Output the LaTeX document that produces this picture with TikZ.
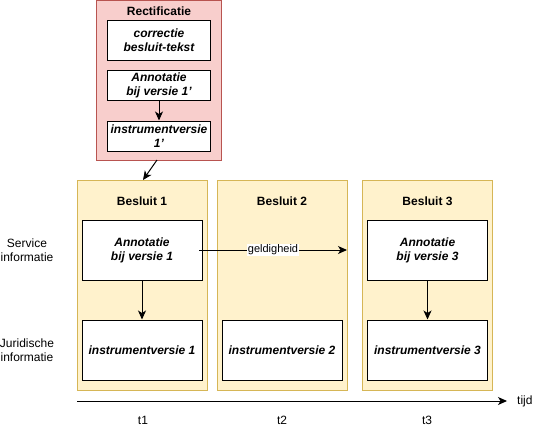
\documentclass[tikz,border=0pt]{standalone}
\usepackage{fontspec}
\setmainfont{Liberation Sans}
\usetikzlibrary{arrows.meta}
\definecolor{grpfill}{HTML}{FFF2CC}
\definecolor{grpdraw}{HTML}{D6B656}
\definecolor{recfill}{HTML}{F8CECC}
\definecolor{recdraw}{HTML}{B85450}
\tikzset{
  every node/.style={font=\fontsize{12}{14}\selectfont, inner sep=0pt, align=center},
  grp/.style={draw=grpdraw, fill=grpfill, line width=1pt, minimum width=130pt, minimum height=210pt},
  recgrp/.style={draw=recdraw, fill=recfill, line width=1pt, minimum width=125pt, minimum height=160pt},
  wbox/.style={draw=black, fill=white, line width=1pt, font=\fontsize{12}{14}\selectfont\bfseries\itshape},
  bigbox/.style={wbox, minimum width=120pt, minimum height=60pt},
  smallbox/.style={wbox, minimum width=103pt},
  title/.style={font=\fontsize{12}{14}\selectfont\bfseries},
  lbl/.style={font=\fontsize{12}{14}\selectfont},
  conn/.style={line width=1pt, -{Stealth[length=9pt,width=8pt,inset=2.5pt]}}
}
\begin{document}
\begin{tikzpicture}[x=1pt,y=-1pt]
\useasboundingbox (0,0) rectangle (548,431);
% Rectificatie
\node[recgrp] (rect) at (159,80) {};
\node[title] (recttitle) at (159,11) {Rectificatie};
\node[smallbox, minimum height=40pt] (corr) at (159,40) {correctie\\besluit-tekst};
\node[smallbox, minimum height=30pt] (ann1p) at (159,85) {Annotatie\\bij versie 1'};
\node[smallbox, minimum height=30pt] (inst1p) at (159,136) {instrumentversie\\1'};
% Besluit groups
\node[grp] (b1) at (142,285.5) {};
\node[grp] (b2) at (282,285.5) {};
\node[grp] (b3) at (427.5,285.5) {};
\node[title] (b1t) at (142,201) {Besluit 1};
\node[title] (b2t) at (282,201) {Besluit 2};
\node[title] (b3t) at (427.5,201) {Besluit 3};
\node[bigbox] (ann1) at (142,250) {Annotatie\\bij versie 1};
\node[bigbox] (ann3) at (427.5,250) {Annotatie\\bij versie 3};
\node[bigbox] (inst1) at (142,350) {instrumentversie 1};
\node[bigbox] (inst2) at (282,350) {instrumentversie 2};
\node[bigbox] (inst3) at (427.5,350) {instrumentversie 3};
% side labels
\node[lbl] (serv) at (27,250.5) {Service\\informatie};
\node[lbl] (jur) at (27,350.5) {Juridische\\informatie};
% time axis
\coordinate (tstart) at (77,401);
\coordinate (tend) at (507,401);
\coordinate (gstart) at (199,250);
\coordinate (gend) at (347,250);
\coordinate (rstart) at (157,160);
\coordinate (rend) at (143,180);
\node[lbl, anchor=west] (tijd) at (517,401) {tijd};
\node[lbl] (t1) at (143,420.5) {t1};
\node[lbl] (t2) at (282,420.5) {t2};
\node[lbl] (t3) at (427,420.5) {t3};
% connectors
\draw[conn] (ann1p) -- (inst1p);
\draw[conn] (rstart) -- (rend);
\draw[conn] (ann1) -- (inst1);
\draw[conn] (ann3) -- (inst3);
\draw[conn] (gstart) -- node[fill=white, inner sep=1pt, font=\fontsize{11}{13}\selectfont] (geld) {geldigheid} (gend);
\draw[conn] (tstart) -- (tend);
\end{tikzpicture}
\end{document}
